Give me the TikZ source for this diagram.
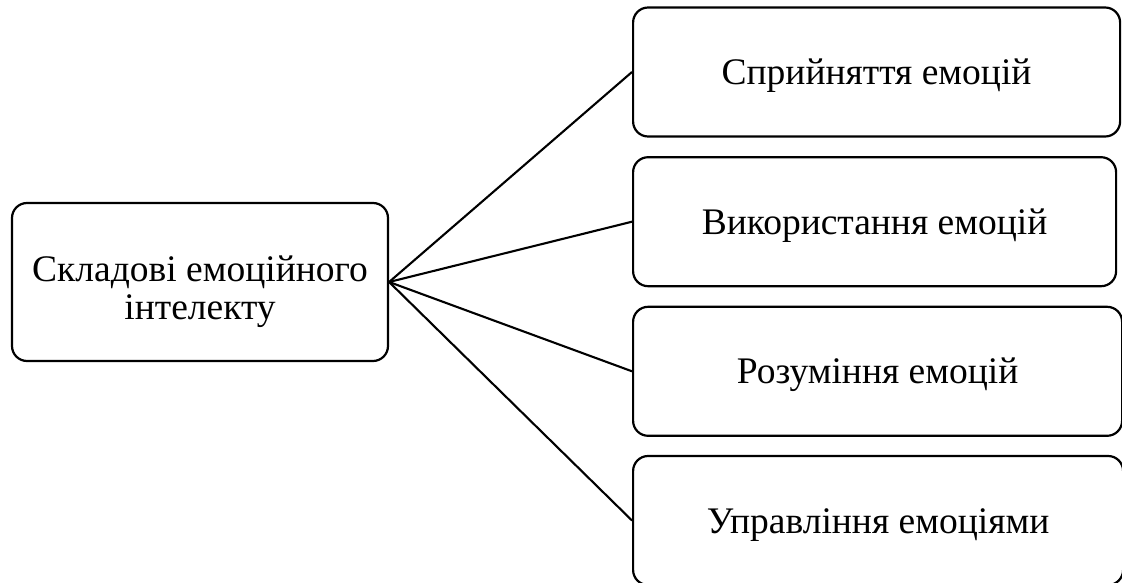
\documentclass[tikz,border=0pt]{standalone}
\usepackage{fontspec}
\setmainfont{Liberation Serif}
\begin{document}
\begin{tikzpicture}[x=1pt,y=-1pt,
  box/.style={draw, line width=2.2pt, rounded corners=15pt, inner sep=0pt,
    font=\fontsize{37.5}{38}\selectfont, text height=25pt, text depth=0pt,
    minimum height=129pt, anchor=west},
  link/.style={line width=2.1pt}]
\useasboundingbox (0,0) rectangle (1122,583);
\node[box, anchor=center, minimum width=376pt, minimum height=158pt, align=center,
  text height=74pt, text depth=0pt]
  (L) at (200,282) {Складові емоційного\\інтелекту};
\node[box, minimum width=487pt] (R1) at (632,72) {Сприйняття емоцій};
\node[box, minimum width=483pt] (R2) at (632,221.7) {Використання емоцій};
\node[box, minimum width=489pt] (R3) at (632,371.3) {Розуміння емоцій};
\node[box, minimum width=490pt] (R4) at (632,520.5) {Управління емоціями};
\foreach \r in {R1,R2,R3,R4} \draw[link] (L.east) -- (\r.west);
\end{tikzpicture}
\end{document}
